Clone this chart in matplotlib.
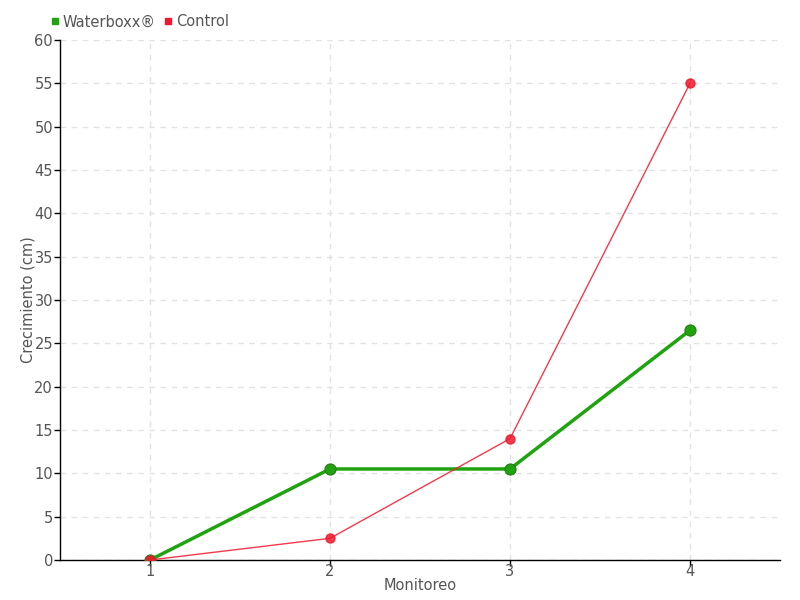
import matplotlib
matplotlib.use('Agg')
import matplotlib.pyplot as plt
from matplotlib.lines import Line2D

# --- data ---
monitoreo = [1, 2, 3, 4]
waterboxx = [0, 10.5, 10.5, 26.5]
control = [0, 2.5, 14, 55]

green = '#1fa30f'
red = '#f0182e'
text_col = '#555555'

plt.rcParams['font.family'] = ['DejaVu Sans Condensed', 'DejaVu Sans']

fig = plt.figure(figsize=(8, 6), dpi=100)
ax = fig.add_axes([0.075, 0.0667, 0.9, 0.8667])

ax.plot(monitoreo, waterboxx, color=green, lw=2.5, marker='o', ms=8,
        markerfacecolor=green, markeredgecolor='#2a7a1a', markeredgewidth=0.8, zorder=3)
ax.plot(monitoreo, control, color=red, lw=1, alpha=0.85, marker='o', ms=6.5,
        markerfacecolor=red, markeredgecolor=red, zorder=4)

ax.set_xlim(0.5, 4.5)
ax.set_ylim(0, 60)
ax.set_xticks(monitoreo)
ax.set_yticks(range(0, 61, 5))
ax.grid(True, color='#e2e2e2', linestyle=(0, (4, 4)), lw=1)
ax.set_axisbelow(True)

for s in ['top', 'right']:
    ax.spines[s].set_visible(False)
for s in ['left', 'bottom']:
    ax.spines[s].set_color('black')
    ax.spines[s].set_linewidth(1)

ax.tick_params(colors=text_col, labelsize=10.5, length=4, width=1)
ax.tick_params(axis='x', pad=-1)
ax.tick_params(axis='y', pad=1)
ax.tick_params(axis='both', color='black')
ax.set_xlabel('Monitoreo', color=text_col, fontsize=10.5, labelpad=-1)
ax.set_ylabel('Crecimiento (cm)', color=text_col, fontsize=10.5, labelpad=-1)

handles = [Line2D([], [], marker='s', ls='', color=green, ms=4),
           Line2D([], [], marker='s', ls='', color=red, ms=4)]
fig.legend(handles, ['Waterboxx®', 'Control'], loc='upper left',
           bbox_to_anchor=(0.045, 0.998), ncol=2, frameon=False,
           handlelength=0.8, handletextpad=0.15, columnspacing=0.4, fontsize=10.5,
           labelcolor=text_col)

fig.savefig('out.png', dpi=100)
